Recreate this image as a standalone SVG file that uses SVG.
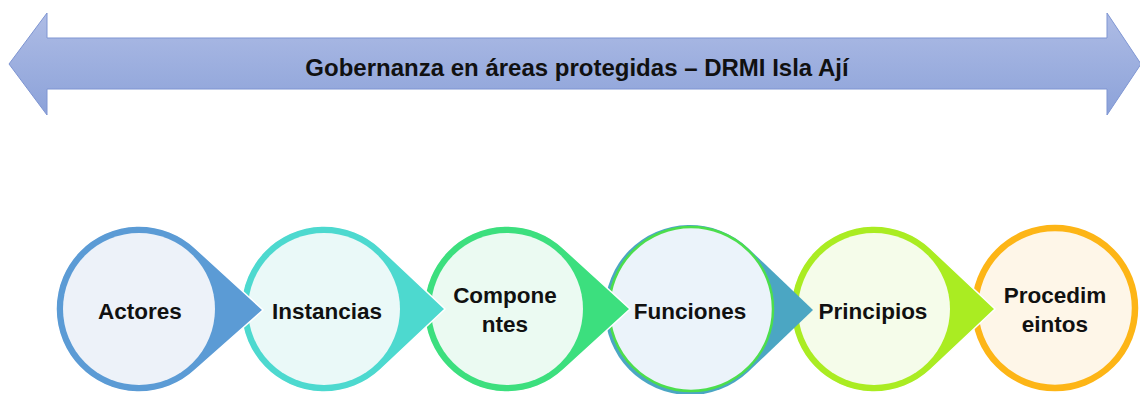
<svg xmlns="http://www.w3.org/2000/svg" width="1140" height="394" viewBox="0 0 1140 394">
<defs>
<linearGradient id="arrowGrad" x1="0" y1="0" x2="0" y2="1">
<stop offset="0" stop-color="#AEBCE5"/>
<stop offset="1" stop-color="#8CA2D9"/>
</linearGradient>
</defs>
<style>
.lbl{font-family:"Liberation Sans",Arial,sans-serif;font-weight:bold;font-size:22.5px;fill:#111;text-anchor:middle}
.title{font-family:"Liberation Sans",Arial,sans-serif;font-weight:bold;font-size:24px;fill:#111;text-anchor:middle}
.drop{stroke:#fff;stroke-width:1.5}
</style>
<rect width="1140" height="394" fill="#fff"/>
<g id="banner">
<polygon points="9,64 47,13 47,38 1107,38 1107,13 1141,64 1107,115 1107,89 47,89 47,115" fill="url(#arrowGrad)" stroke="#7E95D2" stroke-width="1"/>
<text class="title" x="577" y="76">Gobernanza en áreas protegidas – DRMI Isla Ají</text>
</g>
<g id="connectors"></g>
<g id="procedimientos">
<circle cx="1055" cy="308" r="80" fill="#FEF6E8" stroke="#FDB516" stroke-width="6.5"/>
<text class="lbl" x="1055" y="303">Procedim</text>
<text class="lbl" x="1055" y="332">eintos</text>
</g>
<g id="principios">
<path class="drop" d="M995,309 L930.5,369.8 A83,83 0 1 1 930.5,248.2 Z" fill="#AAEC22"/>
<circle cx="874" cy="309" r="76" fill="#F5FCEA"/>
<text class="lbl" x="873" y="319">Principios</text>
</g>
<g id="funciones">
<path d="M813,310 L748,372 A85,85 0 1 1 748,248 Z" fill="#4BA6C3"/>
<circle cx="691" cy="309" r="82" fill="#EBF3FA" stroke="#4CDE4C" stroke-width="2.5"/>
<text class="lbl" x="690" y="319">Funciones</text>
</g>
<g id="componentes">
<path class="drop" d="M630,309 L563.5,369.8 A83,83 0 1 1 563.5,248.2 Z" fill="#3CDF7E"/>
<circle cx="507" cy="309" r="76" fill="#EBFAF2"/>
<text class="lbl" x="505" y="303">Compone</text>
<text class="lbl" x="505" y="332">ntes</text>
</g>
<g id="instancias">
<path class="drop" d="M445,309 L380.5,369.8 A83,83 0 1 1 380.5,248.2 Z" fill="#4DD9CF"/>
<circle cx="324" cy="309" r="76" fill="#EAF9F8"/>
<text class="lbl" x="327" y="319">Instancias</text>
</g>
<g id="actores">
<path class="drop" d="M263,310 L195.5,369.8 A83,83 0 1 1 195.5,248.2 Z" fill="#5B9BD5"/>
<circle cx="139" cy="309" r="76" fill="#EDF2F9"/>
<text class="lbl" x="140" y="319">Actores</text>
</g>
</svg>
